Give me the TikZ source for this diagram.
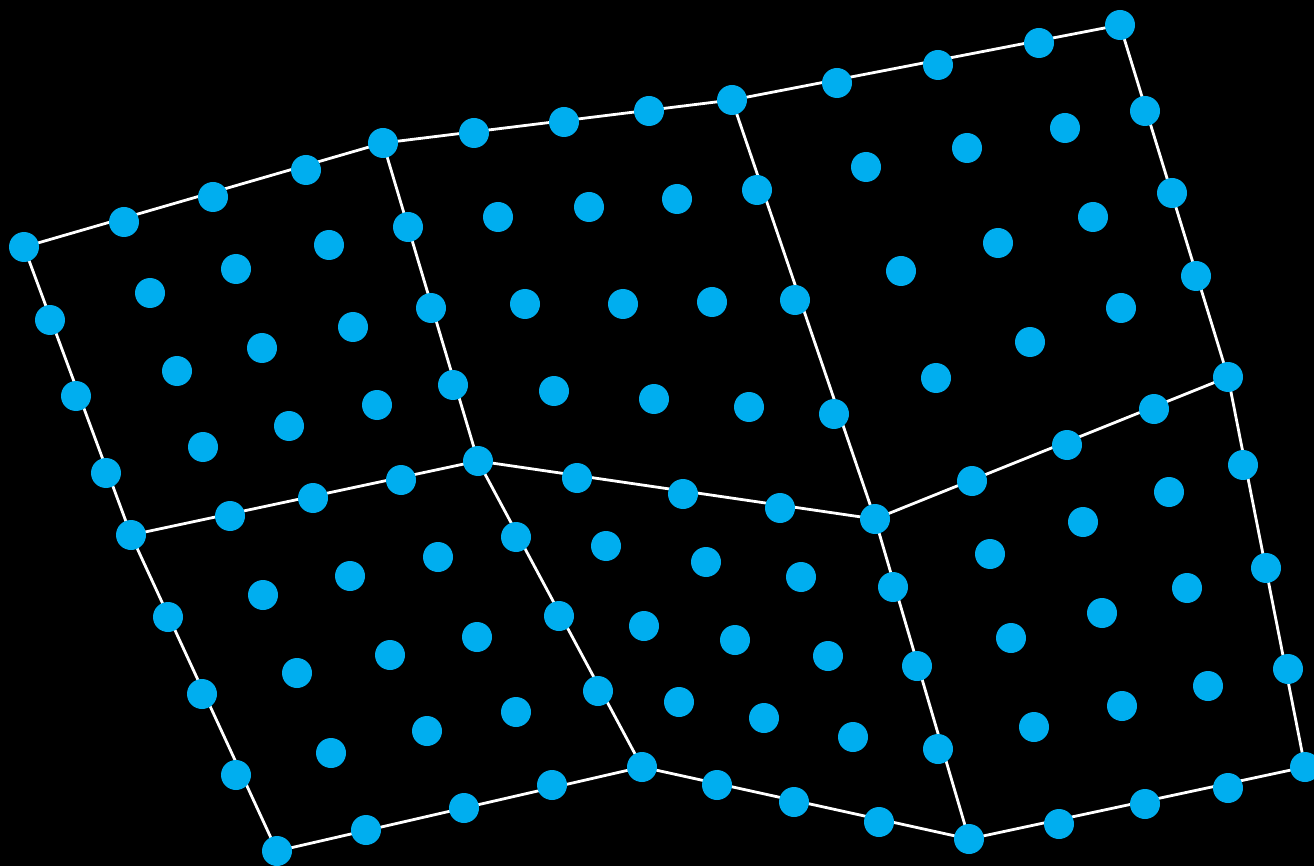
\documentclass[tikz,border=0pt]{standalone}
\definecolor{dotblue}{RGB}{0,174,239}
\tikzset{
  edge/.style={draw=white, line width=2.8pt, line join=round},
  dot/.style={circle, fill=dotblue, draw=none, inner sep=0pt, minimum size=30pt}
}
\begin{document}
\begin{tikzpicture}[x=1pt,y=-1pt]
\fill[black] (0,0) rectangle (1314,866);
\useasboundingbox (0,0) rectangle (1314,866);
% corners
\foreach \n/\x/\y in {c1/24/247,c2/383/143,c3/732/100,c4/1120/25,
  c5/131/535,c6/478/461,c7/875/519,c8/1228/377,
  c9/277/851,c10/642/767,c11/969/839,c12/1305/767}
  \coordinate (\n) at (\x,\y);
% edge points
\foreach \n/\x/\y in {
  ta1/124/222,ta2/213/197,ta3/306/170,
  tb1/474/133,tb2/564/122,tb3/649/111,
  tc1/837/83,tc2/938/65,tc3/1039/43,
  ma1/230/516,ma2/313/498,ma3/401/480,
  mb1/577/478,mb2/683/494,mb3/780/508,
  mc1/972/481,mc2/1067/445,mc3/1154/409,
  ba1/366/830,ba2/464/808,ba3/552/785,
  bb1/717/785,bb2/794/802,bb3/879/822,
  bc1/1059/824,bc2/1145/804,bc3/1228/788,
  va1/50/320,va2/76/396,va3/106/473,
  vb1/408/227,vb2/431/308,vb3/453/385,
  vc1/757/190,vc2/795/300,vc3/834/414,
  vd1/1145/111,vd2/1172/193,vd3/1196/276,
  wa1/168/617,wa2/202/694,wa3/236/775,
  wb1/516/537,wb2/559/616,wb3/598/691,
  wc1/893/587,wc2/917/666,wc3/938/749,
  wd1/1243/465,wd2/1266/568,wd3/1288/669}
  \coordinate (\n) at (\x,\y);
% interior points
\foreach \n/\x/\y in {
  ia1/150/293,ia2/236/269,ia3/329/245,ia4/177/371,ia5/262/348,ia6/353/327,ia7/203/447,ia8/289/426,ia9/377/405,
  ib1/498/217,ib2/589/207,ib3/677/199,ib4/525/304,ib5/623/304,ib6/712/302,ib7/554/391,ib8/654/399,ib9/749/407,
  ic1/866/167,ic2/967/148,ic3/1065/128,ic4/901/271,ic5/998/243,ic6/1093/217,ic7/936/378,ic8/1030/342,ic9/1121/308,
  id1/263/595,id2/350/576,id3/438/557,id4/297/673,id5/390/655,id6/477/637,id7/331/753,id8/427/731,id9/516/712,
  ie1/606/546,ie2/706/562,ie3/801/577,ie4/644/626,ie5/735/640,ie6/828/656,ie7/679/702,ie8/764/718,ie9/853/737,
  if1/990/554,if2/1083/522,if3/1169/492,if4/1011/638,if5/1102/613,if6/1187/588,if7/1034/727,if8/1122/706,if9/1208/686}
  \coordinate (\n) at (\x,\y);
% connectors (straight edges between corner nodes)
\draw[edge] (c1) -- (c2) -- (c3) -- (c4);
\draw[edge] (c5) -- (c6) -- (c7) -- (c8);
\draw[edge] (c9) -- (c10) -- (c11) -- (c12);
\draw[edge] (c1) -- (c5) -- (c9);
\draw[edge] (c2) -- (c6) -- (c10);
\draw[edge] (c3) -- (c7) -- (c11);
\draw[edge] (c4) -- (c8) -- (c12);
% dots
\foreach \n in {c1,c2,c3,c4,c5,c6,c7,c8,c9,c10,c11,c12,
  ta1,ta2,ta3,tb1,tb2,tb3,tc1,tc2,tc3,ma1,ma2,ma3,mb1,mb2,mb3,mc1,mc2,mc3,
  ba1,ba2,ba3,bb1,bb2,bb3,bc1,bc2,bc3,va1,va2,va3,vb1,vb2,vb3,vc1,vc2,vc3,vd1,vd2,vd3,
  wa1,wa2,wa3,wb1,wb2,wb3,wc1,wc2,wc3,wd1,wd2,wd3,
  ia1,ia2,ia3,ia4,ia5,ia6,ia7,ia8,ia9,ib1,ib2,ib3,ib4,ib5,ib6,ib7,ib8,ib9,
  ic1,ic2,ic3,ic4,ic5,ic6,ic7,ic8,ic9,id1,id2,id3,id4,id5,id6,id7,id8,id9,
  ie1,ie2,ie3,ie4,ie5,ie6,ie7,ie8,ie9,if1,if2,if3,if4,if5,if6,if7,if8,if9}
  \node[dot] (d\n) at (\n) {};
\end{tikzpicture}
\end{document}
